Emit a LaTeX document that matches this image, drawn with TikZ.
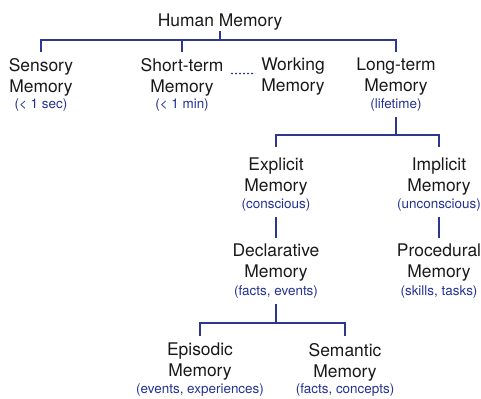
\documentclass[tikz,border=0pt]{standalone}
\usepackage{fontspec}
\setmainfont{TeX Gyre Heros}
\definecolor{linec}{RGB}{45,55,140}
\definecolor{notec}{RGB}{35,50,145}
\definecolor{textc}{RGB}{25,25,25}
\begin{document}
\begin{tikzpicture}[x=1bp,y=-1bp,
  concept/.style={align=center, font=\fontsize{17.5}{21}\selectfont, text=textc,
    inner xsep=0pt, inner ysep=6bp, anchor=north},
  note/.style={font=\fontsize{13.5}{16}\selectfont, text=notec, anchor=base,
    inner xsep=0pt, inner ysep=6bp},
  conn/.style={draw=linec, line width=1.4bp},
  dotline/.style={draw=linec, line width=1.3bp, dash pattern=on 2bp off 2bp}]
\useasboundingbox (0,0) rectangle (481,398);

% level 0
\node[concept, inner ysep=1bp] (hm) at (220,12.3) {Human Memory};

% level 1
\node[concept] (sm) at (41,52)  {Sensory\\Memory};
\node[concept] (st) at (182,52) {Short-term\\Memory};
\node[concept] (wm) at (293,52) {Working\\Memory};
\node[concept] (lt) at (396,52) {Long-term\\Memory};
\node[note] (smn) at (41,108)  {(< 1 sec)};
\node[note] (stn) at (182,108) {(< 1 min)};
\node[note] (ltn) at (396,108) {(lifetime)};

% level 2
\node[concept, inner ysep=10.5bp] (ex) at (276,147) {Explicit\\Memory};
\node[concept, inner ysep=10.5bp] (im) at (439,147) {Implicit\\Memory};
\node[note] (exn) at (276,208) {(conscious)};
\node[note] (imn) at (439,208) {(unconscious)};

% level 3
\node[concept, inner ysep=5.5bp] (dec) at (276,238) {Declarative\\Memory};
\node[concept, inner ysep=5.5bp] (pro) at (439,238) {Procedural\\Memory};
\node[note] (decn) at (276,295) {(facts, events)};
\node[note] (pron) at (439,295) {(skills, tasks)};

% level 4
\node[concept, inner ysep=7bp] (epi) at (200,336) {Episodic\\Memory};
\node[concept, inner ysep=7bp] (sem) at (345,336) {Semantic\\Memory};
\node[note] (epin) at (200,393.5) {(events, experiences)};
\node[note] (semn) at (345,393.5) {(facts, concepts)};

% junctions
\coordinate (j1) at (220,40);
\coordinate (j2) at (396,135);
\coordinate (j3) at (276,323);

% connectors
\draw[conn] (hm.south) -- (j1);
\draw[conn] (j1) -| (sm.north);
\draw[conn] (j1) -| (lt.north);
\draw[conn] (st.north) -- (st.north |- j1);
\draw[dotline, shorten <=7.5bp, shorten >=6bp] ([yshift=3.5bp]st.east) -- ([yshift=3.5bp]wm.west);

\draw[conn] (ltn.south) -- (j2);
\draw[conn] (j2) -| (ex.north);
\draw[conn] (j2) -| (im.north);

\draw[conn] (exn.south) -- (dec.north);
\draw[conn] (imn.south) -- (pro.north);

\draw[conn] (decn.south) -- (j3);
\draw[conn] (j3) -| (epi.north);
\draw[conn] (j3) -| (sem.north);
\end{tikzpicture}
\end{document}
